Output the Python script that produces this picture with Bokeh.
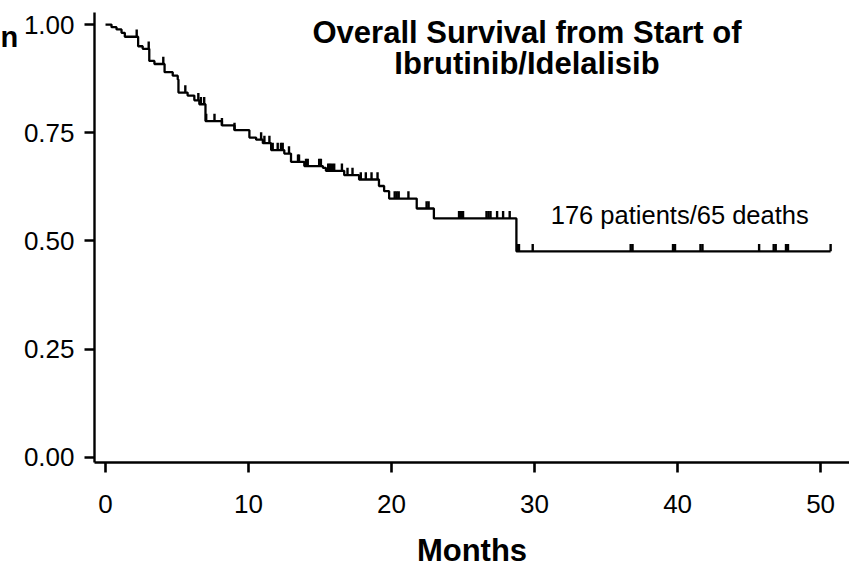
from bisect import bisect_right
from bokeh.plotting import figure
from bokeh.models import FixedTicker, Range1d, Label
from bokeh.layouts import row
from bokeh.embed import file_html
from bokeh.resources import INLINE

# ---- data ----
event_months = [0.42, 0.77, 1.12, 1.35, 2.28, 2.60, 3.06, 3.42, 4.13, 4.70, 5.05, 5.10,
                5.74, 6.21, 6.56, 6.99, 8.14, 9.02, 10.06, 10.53, 11.00, 11.58, 12.50,
                12.97, 13.90, 15.20, 15.41, 16.69, 17.73, 19.12, 19.48, 19.83, 21.76,
                22.96, 28.73]
event_survival = [0.994, 0.989, 0.981, 0.972, 0.950, 0.944, 0.916, 0.909, 0.890, 0.882,
                  0.873, 0.843, 0.836, 0.825, 0.816, 0.777, 0.767, 0.756, 0.739, 0.734,
                  0.726, 0.710, 0.702, 0.683, 0.673, 0.669, 0.662, 0.652, 0.642, 0.627,
                  0.615, 0.598, 0.575, 0.552, 0.476]
censor_months = [2.18, 3.02, 4.04, 5.58, 6.49, 6.67, 6.90, 7.04, 7.62, 8.14, 9.02, 10.88,
                 11.11, 11.46, 11.69, 12.04, 12.27, 12.39, 12.83, 13.46, 13.53, 14.02,
                 14.14, 14.94, 15.06, 15.57, 15.69, 15.83, 15.99, 16.53, 16.92, 17.27,
                 17.85, 18.20, 18.60, 19.02, 20.22, 20.36, 20.50, 21.18, 22.45, 22.59,
                 24.72, 24.86, 25.00, 26.64, 26.78, 26.92, 27.38, 27.80, 28.26, 28.82,
                 28.91, 29.87, 36.72, 36.85, 39.68, 39.82, 41.60, 41.74, 45.70, 46.72,
                 46.86, 47.58, 47.72, 50.70]
start_survival = 1.0
last_follow_up = 50.70

x_ticks = [0, 10, 20, 30, 40, 50]
x_tick_labels = ["0", "10", "20", "30", "40", "50"]
y_ticks = [0.0, 0.25, 0.5, 0.75, 1.0]
y_tick_labels = ["0.00", "0.25", "0.50", "0.75", "1.00"]

title_lines = ["Overall Survival from Start of", "Ibrutinib/Idelalisib"]
note_text = "176 patients/65 deaths"
x_label = "Months"
cut_text = "n"

FONT = "Liberation Sans"
SIDE_W = 20

# ---- derived curve ----
step_x = [0.0] + event_months + [last_follow_up]
step_y = [start_survival] + event_survival + [event_survival[-1]]


def surv_at(t):
    i = bisect_right(event_months, t)
    return start_survival if i == 0 else event_survival[i - 1]


censor_y0 = [surv_at(t) for t in censor_months]
tick_h = 0.017
censor_y1 = [v + tick_h for v in censor_y0]

# ---- narrow strip on the left holding the cut-off letter ----
side = figure(width=SIDE_W, height=570, output_backend="svg", toolbar_location=None,
              x_range=Range1d(0, SIDE_W), y_range=Range1d(570, 0),
              x_axis_type=None, y_axis_type=None,
              min_border_left=0, min_border_right=0, min_border_top=0, min_border_bottom=0)
side.outline_line_color = None
side.grid.visible = False
side.add_layout(Label(x=0, y=31, text=cut_text, text_align="left",
                      text_baseline="middle", text_font=FONT, text_font_style="bold",
                      text_font_size="29px", text_color="black"))

# ---- main chart ----
p = figure(width=849 - SIDE_W, height=570, output_backend="svg", toolbar_location=None,
           x_range=Range1d(-0.77, 52.02), y_range=Range1d(-0.012, 1.028),
           min_border_left=93 - SIDE_W, min_border_right=0, min_border_top=12,
           min_border_bottom=104)
p.outline_line_color = None
p.xgrid.visible = False
p.ygrid.visible = False
p.background_fill_color = "white"
p.border_fill_color = "white"

p.step(step_x, step_y, mode="after", line_color="black", line_width=2.3)
p.segment(x0=censor_months, y0=censor_y0, x1=censor_months, y1=censor_y1,
          line_color="black", line_width=2.4)

for ax, ticks, labels in ((p.xaxis[0], x_ticks, x_tick_labels), (p.yaxis[0], y_ticks, y_tick_labels)):
    ax.ticker = FixedTicker(ticks=ticks)
    ax.major_label_overrides = {t: l for t, l in zip(ticks, labels)}
    ax.minor_tick_line_color = None
    ax.axis_line_width = 2.4
    ax.axis_line_color = "black"
    ax.major_tick_line_width = 2.6
    ax.major_tick_line_color = "black"
    ax.major_tick_out = 10
    ax.major_tick_in = 0
    ax.major_label_text_font = FONT
    ax.major_label_text_font_size = "26px"
    ax.major_label_text_color = "black"
    ax.major_label_standoff = 10

p.xaxis.major_label_standoff = 22
p.xaxis.axis_label = x_label
p.xaxis.axis_label_text_font = FONT
p.xaxis.axis_label_text_font_style = "bold"
p.xaxis.axis_label_text_font_size = "31px"
p.xaxis.axis_label_text_color = "black"
p.xaxis.axis_label_standoff = 17

p.add_layout(Label(x=29.47, y=0.982, text=title_lines[0], text_align="center",
                   text_baseline="middle", text_font=FONT, text_font_style="bold",
                   text_font_size="31px", text_color="black"))
p.add_layout(Label(x=29.47, y=0.911, text=title_lines[1], text_align="center",
                   text_baseline="middle", text_font=FONT, text_font_style="bold",
                   text_font_size="31px", text_color="black"))
p.add_layout(Label(x=40.15, y=0.560, text=note_text, text_align="center",
                   text_baseline="middle", text_font=FONT, text_font_size="25.5px",
                   text_color="black"))

open("out.html", "w").write(file_html(row(side, p), INLINE))
